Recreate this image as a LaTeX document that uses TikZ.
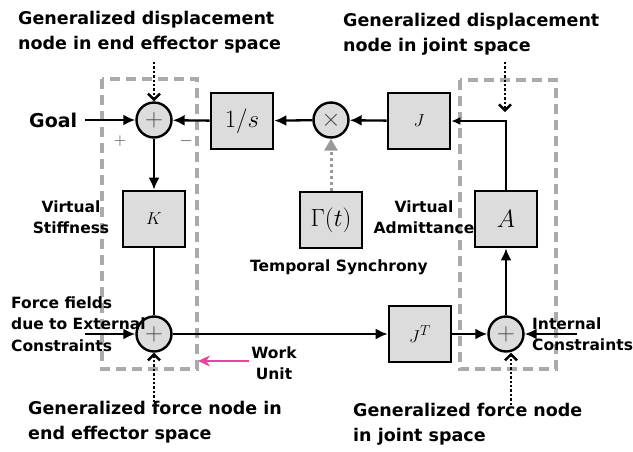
\documentclass[tikz,border=0pt]{standalone}
\usepackage{fontspec}
\setmainfont{DejaVu Sans}
\usetikzlibrary{arrows.meta}
\definecolor{boxgray}{HTML}{DCDCDC}
\definecolor{dashgray}{HTML}{ABABAB}
\definecolor{pinkc}{HTML}{E8449A}
\definecolor{signgray}{HTML}{444444}
\begin{document}
\begin{tikzpicture}[x=1pt,y=-1pt,
  blk/.style={draw, line width=2.6pt, fill=boxgray, minimum width=62pt, minimum height=56pt, inner sep=0pt, font=\fontsize{23}{23}\selectfont},
  sumn/.style={circle, draw, line width=2.4pt, fill=boxgray, minimum size=35pt, inner sep=0pt, text=signgray, font=\fontsize{24}{24}\selectfont},
  sig/.style={line width=2.3pt, -{Latex[length=12pt,width=11pt]}},
  wire/.style={line width=2.3pt},
  ptr/.style={line width=2.4pt, dash pattern=on 2.4pt off 2pt, -{Straight Barb[length=6pt,width=12pt,line width=2.4pt]}},
  gptr/.style={draw=gray!80, line width=3pt, dash pattern=on 3pt off 3pt, -{Triangle[length=12pt,width=13pt,fill=gray!80]}},
  grp/.style={draw=dashgray, line width=3.2pt, dash pattern=on 10pt off 6pt},
  lbl/.style={font=\bfseries\fontsize{17.5}{25}\selectfont, inner sep=0pt, align=left},
  mlbl/.style={font=\bfseries\fontsize{15.5}{21.5}\selectfont, inner sep=0pt, align=center},
  sgn/.style={text=signgray, font=\fontsize{17}{17}\selectfont, inner sep=0pt}
]
\useasboundingbox (0,0) rectangle (633,451);

% grouping boxes
\draw[grp] (102,79) rectangle (197,369);
\draw[grp] (460,80) rectangle (556,369);

% blocks
\node[sumn] (s1) at (154,120) {$+$};
\node[blk] (inv) at (242,121) {$1/s$};
\node[sumn] (mul) at (331,120) {$\times$};
\node[blk, font=\fontsize{19}{19}\selectfont] (J) at (419,121) {$J$};
\node[blk, font=\fontsize{19}{19}\selectfont] (K) at (154,219) {$K$};
\node[blk] (G) at (331,220) {$\Gamma(t)$};
\node[blk, font=\fontsize{25}{25}\selectfont] (A) at (506,219) {$A$};
\node[sumn] (s3) at (154,334) {$+$};
\node[blk, font=\fontsize{19}{19}\selectfont] (JT) at (420,334) {$J^T$};
\node[sumn] (s4) at (506,334) {$+$};

% texts
\node[font=\bfseries\fontsize{19}{19}\selectfont, inner sep=0pt, anchor=west] (goal) at (29,120) {Goal};
\node[sgn] (plus) at (120,141) {$+$};
\node[sgn] (minus) at (186,141) {$-$};
\node[lbl, anchor=west] (gd1) at (18,32) {Generalized displacement\\node in end effector space};
\node[lbl, anchor=west] (gd2) at (343,34) {Generalized displacement\\node in joint space};
\node[mlbl] (vs) at (71,217) {Virtual\\Stiffness};
\node[mlbl] (ts) at (339,267) {Temporal Synchrony};
\node[mlbl] (va) at (424,217) {Virtual\\Admittance};
\node[mlbl, align=left, anchor=west] (ff) at (11,324) {Force fields\\due to External\\Constraints};
\node[mlbl, align=left, anchor=west] (ic) at (532,334) {Internal\\Constraints};
\node[mlbl] (work) at (274,363) {Work\\Unit};
\node[lbl, anchor=west] (gf1) at (28,422) {Generalized force node in\\end effector space};
\node[lbl, anchor=west] (gf2) at (353,424) {Generalized force node\\in joint space};

% free ends
\coordinate (goalin) at (85,120);
\coordinate (ffin) at (85,334);
\coordinate (icin) at (577,334);
\coordinate (p1) at (154,62);
\coordinate (p2) at (505,62);
\coordinate (p2e) at (505,112);
\coordinate (p3) at (154,402);
\coordinate (p4) at (511,405);
\coordinate (wstart) at (249,361);
\coordinate (wtip) at (198,361);

% signal flow
\draw[sig] (goalin) -- (s1);
\draw[sig] (inv) -- (s1);
\draw[sig] (mul) -- (inv);
\draw[sig] (J) -- (mul);
\draw[line width=2pt, -{Latex[length=9pt,width=8pt]}] (A.north) |- (J.east);
\draw[sig] (s1) -- (K);
\draw[wire] (K) -- (s3);
\draw[sig] (ffin) -- (s3);
\draw[sig] (s3) -- (JT);
\draw[sig] (JT) -- (s4);
\draw[sig] (icin) -- (s4);
\draw[sig] (s4) -- (A);

% annotation pointers
\draw[gptr] (G) -- (mul);
\draw[ptr] (p1) -- (s1);
\draw[ptr] (p2) -- (p2e);
\draw[ptr] (p3) -- (s3);
\draw[ptr] (p4) -- (p4 |- s4.south);
\draw[line width=2.5pt, draw=pinkc, -{Stealth[length=12pt,width=11pt,fill=pinkc]}] (wstart) -- (wtip);
\end{tikzpicture}
\end{document}
